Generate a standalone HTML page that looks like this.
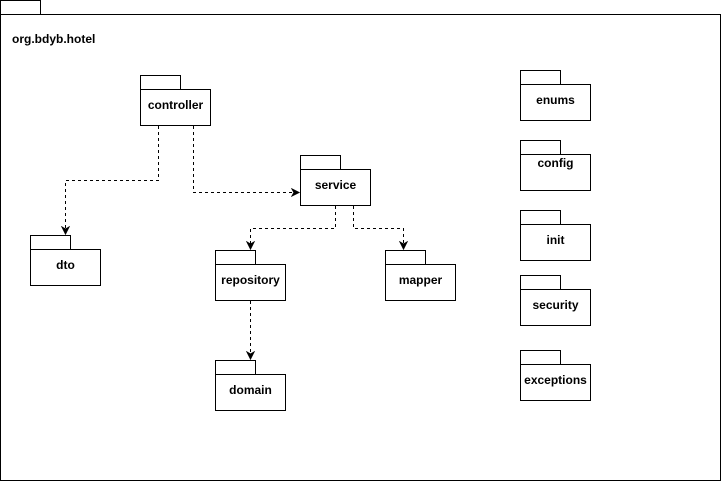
<!DOCTYPE html>
<html><head><meta charset="utf-8"><style>
html,body{margin:0;padding:0;background:#fff;}
svg{display:block;}
text{font-family:"Liberation Sans",Arial,sans-serif;font-size:12px;font-weight:bold;fill:#000;}
</style></head><body>
<svg width="721" height="481" viewBox="0 0 721 481" xmlns="http://www.w3.org/2000/svg">
<defs>
<marker id="a" markerWidth="10" markerHeight="10" refX="8" refY="5" orient="auto" markerUnits="userSpaceOnUse">
<path d="M1,1.5 L8,5 L1,8.5 L3,5 Z" fill="#000" stroke="#000" stroke-width="1"/>
</marker>
</defs>
<g fill="#fff" stroke="#000" stroke-width="1">
<rect x="0.5" y="0.5" width="40" height="14"/>
<rect x="0.5" y="14.5" width="720" height="466"/>
</g>
<text x="12" y="43">org.bdyb.hotel</text>
<g fill="#fff" stroke="#000" stroke-width="1">
<rect x="140.5" y="75.5" width="40" height="14"/><rect x="140.5" y="89.5" width="70" height="36"/>
<rect x="300.5" y="155.5" width="40" height="14"/><rect x="300.5" y="169.5" width="70" height="36"/>
<rect x="30.5" y="235.5" width="40" height="14"/><rect x="30.5" y="249.5" width="70" height="36"/>
<rect x="215.5" y="250.5" width="40" height="14"/><rect x="215.5" y="264.5" width="70" height="36"/>
<rect x="385.5" y="250.5" width="40" height="14"/><rect x="385.5" y="264.5" width="70" height="36"/>
<rect x="215.5" y="360.5" width="40" height="14"/><rect x="215.5" y="374.5" width="70" height="36"/>
<rect x="520.5" y="70.5" width="40" height="14"/><rect x="520.5" y="84.5" width="70" height="36"/>
<rect x="520.5" y="140.5" width="40" height="14"/><rect x="520.5" y="154.5" width="70" height="36"/>
<rect x="520.5" y="210.5" width="40" height="14"/><rect x="520.5" y="224.5" width="70" height="36"/>
<rect x="520.5" y="275.5" width="40" height="14"/><rect x="520.5" y="289.5" width="70" height="36"/>
<rect x="520.5" y="350.5" width="40" height="14"/><rect x="520.5" y="364.5" width="70" height="36"/>
</g>
<g text-anchor="middle">
<text x="175.5" y="109">controller</text>
<text x="335.5" y="189">service</text>
<text x="65.5" y="269">dto</text>
<text x="250.5" y="284">repository</text>
<text x="420.5" y="284">mapper</text>
<text x="250.5" y="394">domain</text>
<text x="555.5" y="104">enums</text>
<text x="555.5" y="167">config</text>
<text x="555.5" y="244">init</text>
<text x="555.5" y="309">security</text>
<text x="555.5" y="384">exceptions</text>
</g>
<g fill="none" stroke="#000" stroke-width="1" stroke-dasharray="3,3" marker-end="url(#a)">
<path d="M158.5,126 V180.5 H65.5 V234"/>
<path d="M193.5,126 V192.5 H299"/>
<path d="M335.5,206 V228.5 H250.5 V249"/>
<path d="M353.5,206 V228.5 H403.5 V249"/>
<path d="M250.5,301 V359"/>
</g>
</svg>
</body></html>
